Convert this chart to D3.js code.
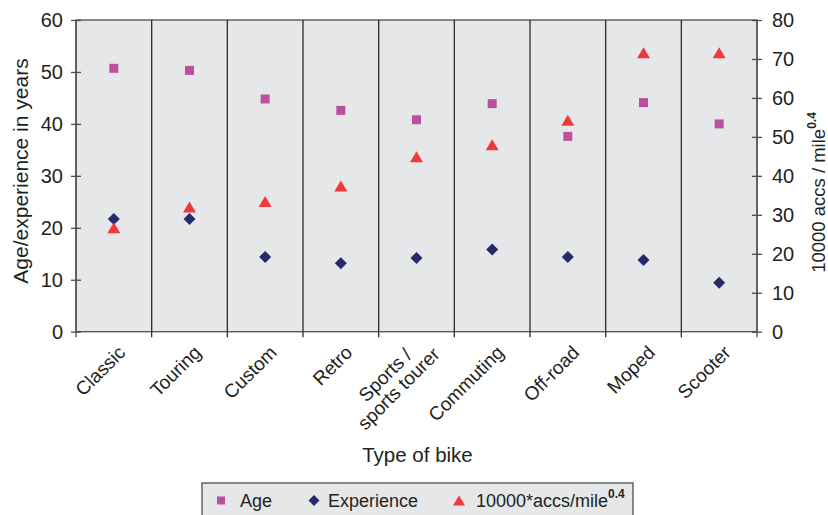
<!DOCTYPE html>
<html>
<head>
<meta charset="utf-8">
<script src="https://cdn.jsdelivr.net/npm/d3@7"></script>
<style>
  body { margin: 0; background: #fff; }
  text { font-family: "Liberation Sans", Arial, sans-serif; fill: #231f20; }
</style>
</head>
<body>
<svg id="chart" width="828" height="515"></svg>
<script>
// chart values
var categories = ["Classic", "Touring", "Custom", "Retro", "Sports /\nsports tourer",
                  "Commuting", "Off-road", "Moped", "Scooter"];
var age        = [50.7, 50.3, 44.8, 42.6, 40.8, 43.9, 37.6, 44.1, 40.0];
var experience = [21.7, 21.7, 14.4, 13.2, 14.2, 15.8, 14.4, 13.8, 9.4];
var accs       = [26.7, 32.0, 33.4, 37.4, 44.9, 48.0, 54.3, 71.6, 71.6];
var leftTicks  = [0, 10, 20, 30, 40, 50, 60];
var rightTicks = [0, 10, 20, 30, 40, 50, 60, 70, 80];

var svg = d3.select("#chart");
var plotLeft = 76, plotRight = 757, plotTop = 20, plotBottom = 331.7;

var x = d3.scaleBand().domain(d3.range(categories.length)).range([plotLeft, plotRight]);
var yL = d3.scaleLinear().domain([0, 60]).range([plotBottom, plotTop]);
var yR = d3.scaleLinear().domain([0, 80]).range([plotBottom, plotTop]);

// plot area
svg.append("rect")
    .attr("x", plotLeft).attr("y", plotTop)
    .attr("width", plotRight - plotLeft).attr("height", plotBottom - plotTop)
    .attr("fill", "#e6e7e9")
    .attr("stroke", "#4d4d4f").attr("stroke-width", 1.3);

// category dividers, running through the bottom axis
var edges = d3.range(categories.length + 1);
svg.selectAll(".divider")
    .data(edges)
    .enter()
    .append("line")
    .attr("x1", function(i) { return plotLeft + i * x.step(); })
    .attr("x2", function(i) { return plotLeft + i * x.step(); })
    .attr("y1", plotTop)
    .attr("y2", plotBottom + 5.5)
    .attr("stroke", function(i) { return (i == 0 || i == categories.length) ? "#4d4d4f" : "#2b2b2b"; })
    .attr("stroke-width", 1.3);

// left axis
var gL = svg.append("g")
    .attr("transform", "translate(" + plotLeft + ",0)")
    .call(d3.axisLeft(yL).tickValues(leftTicks).tickSize(5).tickPadding(8));
gL.selectAll(".tick line").attr("x1", 5);
gL.select(".domain").remove();
gL.selectAll(".tick text").attr("font-size", 20).attr("font-family", "Liberation Sans, Arial, sans-serif").attr("fill", "#231f20");
gL.selectAll(".tick line").attr("stroke", "#4d4d4f").attr("stroke-width", 1.3);

// right axis
var gR = svg.append("g")
    .attr("transform", "translate(" + plotRight + ",0)")
    .call(d3.axisRight(yR).tickValues(rightTicks).tickSize(5).tickPadding(10));
gR.selectAll(".tick line").attr("x1", -5);
gR.select(".domain").remove();
gR.selectAll(".tick text").attr("font-size", 20).attr("font-family", "Liberation Sans, Arial, sans-serif").attr("fill", "#231f20");
gR.selectAll(".tick line").attr("stroke", "#4d4d4f").attr("stroke-width", 1.3);

// category labels, rotated
var labels = svg.selectAll(".cat")
    .data(categories)
    .enter()
    .append("text")
    .attr("class", "cat")
    .attr("font-size", 19)
    .attr("transform", function(d, i) {
        return "translate(" + (x(i) + x.bandwidth() / 2 + 8) + ",349) rotate(-45)";
    });

labels.each(function(d) {
    var el = d3.select(this);
    var lines = d.split("\n");
    var spans = lines.map(function(s, j) {
        return el.append("tspan")
            .attr("x", 0)
            .attr("dy", j == 0 ? ((0.35 - (lines.length - 1) * 0.5) + "em") : "1em")
            .text(s);
    });
    if (lines.length == 1) {
        el.attr("text-anchor", "end");
    } else {
        var w = d3.max(spans, function(s) { return s.node().getComputedTextLength(); });
        spans.forEach(function(s) { s.attr("text-anchor", "middle").attr("x", -w / 2 + 7); });
    }
});

// axis titles
svg.append("text")
    .attr("x", 417.5).attr("y", 462)
    .attr("text-anchor", "middle")
    .attr("font-size", 20.5)
    .text("Type of bike");

svg.append("text")
    .attr("transform", "translate(28,171) rotate(-90)")
    .attr("text-anchor", "middle")
    .attr("font-size", 21)
    .text("Age/experience in years");

var rt = svg.append("text")
    .attr("transform", "translate(824.5,192.5) rotate(-90)")
    .attr("text-anchor", "middle")
    .attr("font-size", 18.5);
rt.append("tspan").text("10000 accs / mile");
rt.append("tspan").attr("font-size", 12).attr("font-weight", "bold").attr("dy", "-0.7em").text("0.4");

// marker shapes
var squarePath = "M-4.5,-4.5H4.5V4.5H-4.5Z";
var diamondPath = "M0,-6L6,0L0,6L-6,0Z";
var trianglePath = "M0,-5.5L6.5,5.5H-6.5Z";

var cx = function(d, i) { return x(i) + x.bandwidth() / 2; };

svg.selectAll(".age")
    .data(age)
    .enter()
    .append("path")
    .attr("d", squarePath)
    .attr("fill", "#bd4f9f")
    .attr("transform", function(d, i) { return "translate(" + cx(d, i) + "," + yL(d) + ")"; });

svg.selectAll(".exp")
    .data(experience)
    .enter()
    .append("path")
    .attr("d", diamondPath)
    .attr("fill", "#252a6d")
    .attr("transform", function(d, i) { return "translate(" + cx(d, i) + "," + yL(d) + ")"; });

svg.selectAll(".acc")
    .data(accs)
    .enter()
    .append("path")
    .attr("d", trianglePath)
    .attr("fill", "#ee3a3d")
    .attr("transform", function(d, i) { return "translate(" + cx(d, i) + "," + yR(d) + ")"; });

// legend
var lg = svg.append("g");
lg.append("rect")
    .attr("x", 202).attr("y", 483)
    .attr("width", 431).attr("height", 40)
    .attr("fill", "#e6e7e9")
    .attr("stroke", "#4d4d4f").attr("stroke-width", 1.3);

var legendY = 500.5;
lg.append("path").attr("d", "M-4,-4H4V4H-4Z").attr("fill", "#bd4f9f")
    .attr("transform", "translate(221," + legendY + ")");
lg.append("text").attr("x", 240).attr("y", legendY).attr("dy", "0.35em").attr("font-size", 18).text("Age");

lg.append("path").attr("d", "M0,-5.5L5.5,0L0,5.5L-5.5,0Z").attr("fill", "#252a6d")
    .attr("transform", "translate(314," + legendY + ")");
lg.append("text").attr("x", 328).attr("y", legendY).attr("dy", "0.35em").attr("font-size", 18).text("Experience");

lg.append("path").attr("d", "M0,-5L6,5H-6Z").attr("fill", "#ee3a3d")
    .attr("transform", "translate(459," + legendY + ")");
var lt = lg.append("text").attr("x", 476).attr("y", legendY).attr("dy", "0.35em").attr("font-size", 18);
lt.append("tspan").text("10000*accs/mile");
lt.append("tspan").attr("font-size", 12).attr("font-weight", "bold").attr("dy", "-0.75em").text("0.4");
</script>
</body>
</html>
